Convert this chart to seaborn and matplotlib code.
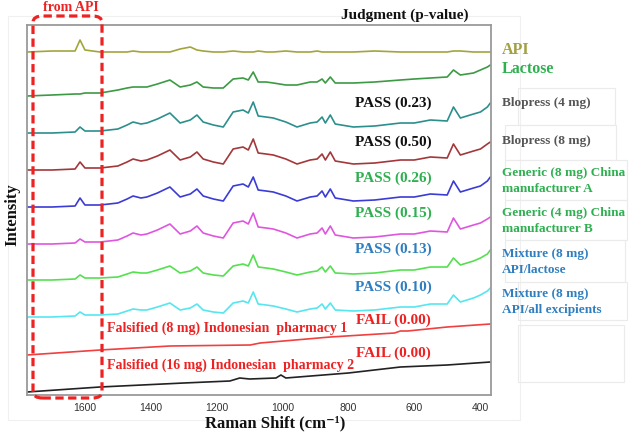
import numpy as np
import pandas as pd
import matplotlib
matplotlib.use("Agg")
import matplotlib.pyplot as plt
import seaborn as sns
from matplotlib.patches import FancyBboxPatch, Rectangle

# ---------------- data ----------------
wavenumber = [1776, 1700, 1630, 1615, 1600, 1554, 1500, 1472, 1454, 1430, 1412, 1380,
              1342, 1311, 1280, 1260, 1241, 1210, 1180, 1150, 1120, 1104, 1089, 1074,
              1050, 1028, 990, 956, 916, 895, 880, 870, 855, 840, 785, 720, 642, 600,
              551, 500, 481, 460, 420, 399, 378, 369]

api = [343, 344, 344, 355, 345, 343, 343, 343, 344, 343, 343, 343,
       343, 346, 348, 345, 344, 343, 343, 344, 343, 343, 343, 344,
       343, 343, 344, 343, 343, 344, 343, 343, 343, 343, 343, 344, 343, 343,
       343, 343, 344, 344, 343, 343, 343, 343]
lactose = [299, 300, 301, 301, 302, 302, 305, 307, 308, 308, 308, 311,
           315, 308, 310, 313, 308, 307, 307, 316, 317, 315, 323, 313,
           313, 312, 310, 310, 313, 313, 316, 312, 318, 312, 312, 313, 315, 316,
           317, 318, 325, 320, 322, 325, 328, 330]
blopress4 = [262, 262, 263, 268, 264, 264, 266, 270, 273, 271, 272, 276,
             282, 272, 275, 280, 273, 270, 268, 283, 285, 282, 293, 279,
             278, 277, 273, 268, 272, 273, 278, 272, 280, 271, 268, 269, 272, 272,
             275, 274, 288, 277, 281, 283, 288, 292]
blopress8 = [225, 225, 226, 233, 227, 227, 229, 233, 236, 234, 235, 239,
             245, 235, 238, 243, 236, 233, 231, 246, 248, 245, 256, 242,
             241, 240, 236, 231, 235, 236, 241, 235, 243, 234, 231, 232, 235, 235,
             238, 237, 251, 240, 244, 246, 251, 253]
generic8 = [188, 188, 189, 197, 190, 190, 192, 196, 199, 197, 198, 202,
            208, 198, 201, 206, 199, 196, 194, 209, 211, 208, 218, 205,
            204, 203, 199, 194, 198, 199, 204, 198, 206, 197, 194, 195, 198, 198,
            201, 200, 214, 203, 207, 209, 214, 218]
generic4 = [151, 151, 152, 156, 153, 153, 155, 159, 162, 160, 161, 165,
            171, 161, 164, 169, 162, 159, 157, 172, 174, 171, 182, 168,
            167, 166, 162, 157, 161, 162, 167, 161, 169, 160, 157, 158, 161, 161,
            164, 163, 177, 166, 170, 172, 176, 178]
mixture_lactose = [115, 115, 116, 120, 117, 117, 118, 121, 123, 122, 122, 125,
                   129, 122, 124, 128, 122, 120, 119, 129, 131, 129, 140, 128,
                   127, 126, 123, 120, 123, 124, 128, 123, 129, 122, 121, 122, 125, 125,
                   128, 128, 137, 130, 134, 137, 141, 145]
mixture_all = [78, 78, 79, 83, 80, 80, 81, 84, 86, 85, 85, 88,
               92, 85, 87, 91, 85, 83, 82, 92, 94, 92, 103, 91,
               90, 89, 86, 83, 86, 87, 91, 86, 92, 85, 84, 85, 88, 88,
               91, 91, 100, 93, 97, 100, 104, 107]

falsified1_wn = [1776, 1554, 1342, 1098, 1068, 855, 660, 642, 620, 500, 369]
falsified1 = [40, 45, 49, 50, 52, 58, 62, 64, 64, 68, 71]
falsified2_wn = [1776, 1554, 1300, 1160, 1130, 1100, 1020, 1005, 990, 800, 642, 500, 369]
falsified2 = [3, 8, 12, 14, 17, 16, 17, 20, 17, 22, 28, 30, 33]

series_names = ["API", "Lactose", "Blopress 4", "Blopress 8", "Generic 8", "Generic 4",
                "Mixture lactose", "Mixture all", "Falsified 1", "Falsified 2"]
series_colors = ["#a3a43c", "#3c9a44", "#2b8f8c", "#a3373a", "#3b3bd6", "#e055e0",
                 "#55e050", "#55e6f0", "#f04040", "#222222"]

judgments = ["PASS (0.23)", "PASS (0.50)", "PASS (0.26)", "PASS (0.15)",
             "PASS (0.13)", "PASS (0.10)", "FAIL (0.00)", "FAIL (0.00)"]
judgment_colors = ["#111111", "#111111", "#2eb050", "#2eb050",
                   "#2f7fc0", "#2f7fc0", "#ee2222", "#ee2222"]
judgment_y = [103, 142, 178, 213, 249, 287, 320, 353]

sample_labels = ["API", "Lactose", "Blopress (4 mg)", "Blopress (8 mg)",
                 "Generic (8 mg) China\nmanufacturer A", "Generic (4 mg) China\nmanufacturer B",
                 "Mixture (8 mg)\nAPI/lactose", "Mixture (8 mg)\nAPI/all excipients"]
sample_colors = ["#a3a040", "#2eb050", "#555555", "#555555",
                 "#2eb050", "#2eb050", "#2f7fc0", "#2f7fc0"]
sample_y = [50, 69, 103, 141, 181, 221, 262, 302]
sample_size = [11.5, 11.5, 9.5, 9.5, 9.5, 9.5, 9.5, 9.5]

xticks = [1600, 1400, 1200, 1000, 800, 600, 400]

# ---------------- build long table ----------------
rows = []
main = [api, lactose, blopress4, blopress8, generic8, generic4, mixture_lactose, mixture_all]
for name, vals in zip(series_names[:8], main):
    for w, v in zip(wavenumber, vals):
        rows.append((name, w, v))
for w, v in zip(falsified1_wn, falsified1):
    rows.append((series_names[8], w, v))
for w, v in zip(falsified2_wn, falsified2):
    rows.append((series_names[9], w, v))
df = pd.DataFrame(rows, columns=["series", "wn", "intensity"])

# ---------------- figure ----------------
sns.set_theme(style="white")
plt.rcParams['font.family'] = ['Liberation Serif', 'DejaVu Serif']

W, H = 637, 436
fig = plt.figure(figsize=(W / 100, H / 100), dpi=100)
fig.patch.set_facecolor("white")

def fx(x):
    return x / W

def fy(y):
    return 1 - y / H

# faint background boxes
fig.patches.append(Rectangle((fx(8), fy(420)), fx(512), (420 - 16) / H, transform=fig.transFigure,
                             fill=False, ec="#f0f0f0", lw=0.8, zorder=0))
for (x0, y0, x1, y1) in [(518, 88, 615, 125), (505, 125, 616, 160), (505, 160, 627, 200),
                         (505, 200, 627, 240), (505, 240, 625, 282), (518, 282, 627, 320),
                         (518, 325, 624, 382)]:
    fig.patches.append(Rectangle((fx(x0), fy(y1)), (x1 - x0) / W, (y1 - y0) / H,
                                 transform=fig.transFigure, fill=False, ec="#ebebeb",
                                 lw=0.8, zorder=0))

ax = fig.add_axes([fx(27), fy(395), (491 - 27) / W, (395 - 25) / H])
palette = dict(zip(series_names, series_colors))
sns.lineplot(data=df, x="wn", y="intensity", hue="series", palette=palette,
             estimator=None, sort=False, legend=False, lw=1.2, ax=ax)
ax.set_xlim(1776, 367)
ax.set_ylim(0, 370)
ax.set_xticks(xticks)
ax.set_xticklabels([str(t) for t in xticks], family=["Liberation Sans"], fontsize=7.5,
                   color="#333333")
ax.set_yticks([])
ax.set_xlabel("")
ax.set_ylabel("")
ax.tick_params(axis="x", length=2, color="#999999", pad=4)
for s in ax.spines.values():
    s.set_color("#9a9a9a")
    s.set_linewidth(1.3)
ax.set_facecolor("white")

# judgment labels
for txt, c, y in zip(judgments, judgment_colors, judgment_y):
    fig.text(fx(393), fy(y), txt, color=c, fontsize=11, fontweight="bold",
             ha="center", va="center")

fig.text(fx(107), fy(328), "Falsified (8 mg) Indonesian  pharmacy 1", color="#ee2222",
         fontsize=10, fontweight="bold", ha="left", va="center")
fig.text(fx(107), fy(365), "Falsified (16 mg) Indonesian  pharmacy 2", color="#ee2222",
         fontsize=10, fontweight="bold", ha="left", va="center")

# sample labels on the right
for txt, c, y, s in zip(sample_labels, sample_colors, sample_y, sample_size):
    fig.text(fx(502), fy(y), txt, color=c, fontsize=s, fontweight="bold",
             ha="left", va="center", linespacing=1.45)

fig.text(fx(405), fy(15), "Judgment (p-value)", color="#111111", fontsize=11,
         fontweight="bold", ha="center", va="center")
fig.text(fx(12), fy(215), "Intensity", color="#111111", fontsize=12,
         fontweight="bold", rotation=90, ha="center", va="center")
fig.text(fx(275), fy(423), "Raman Shift (cm⁻¹)", color="#111111", fontsize=12,
         fontweight="bold", ha="center", va="center")
fig.text(fx(71), fy(1), "from API", color="#ee2222", fontsize=10,
         fontweight="bold", ha="center", va="top")

# dashed highlight box
box = FancyBboxPatch((fx(33), fy(398)), (102 - 33) / W, (398 - 16) / H,
                     boxstyle="round,pad=0,rounding_size=0.015",
                     transform=fig.transFigure, fill=False, ec="#ee2222", lw=2.3,
                     ls=(0, (2.6, 1.4)), zorder=10)
fig.patches.append(box)

fig.savefig("out.png", dpi=100)
